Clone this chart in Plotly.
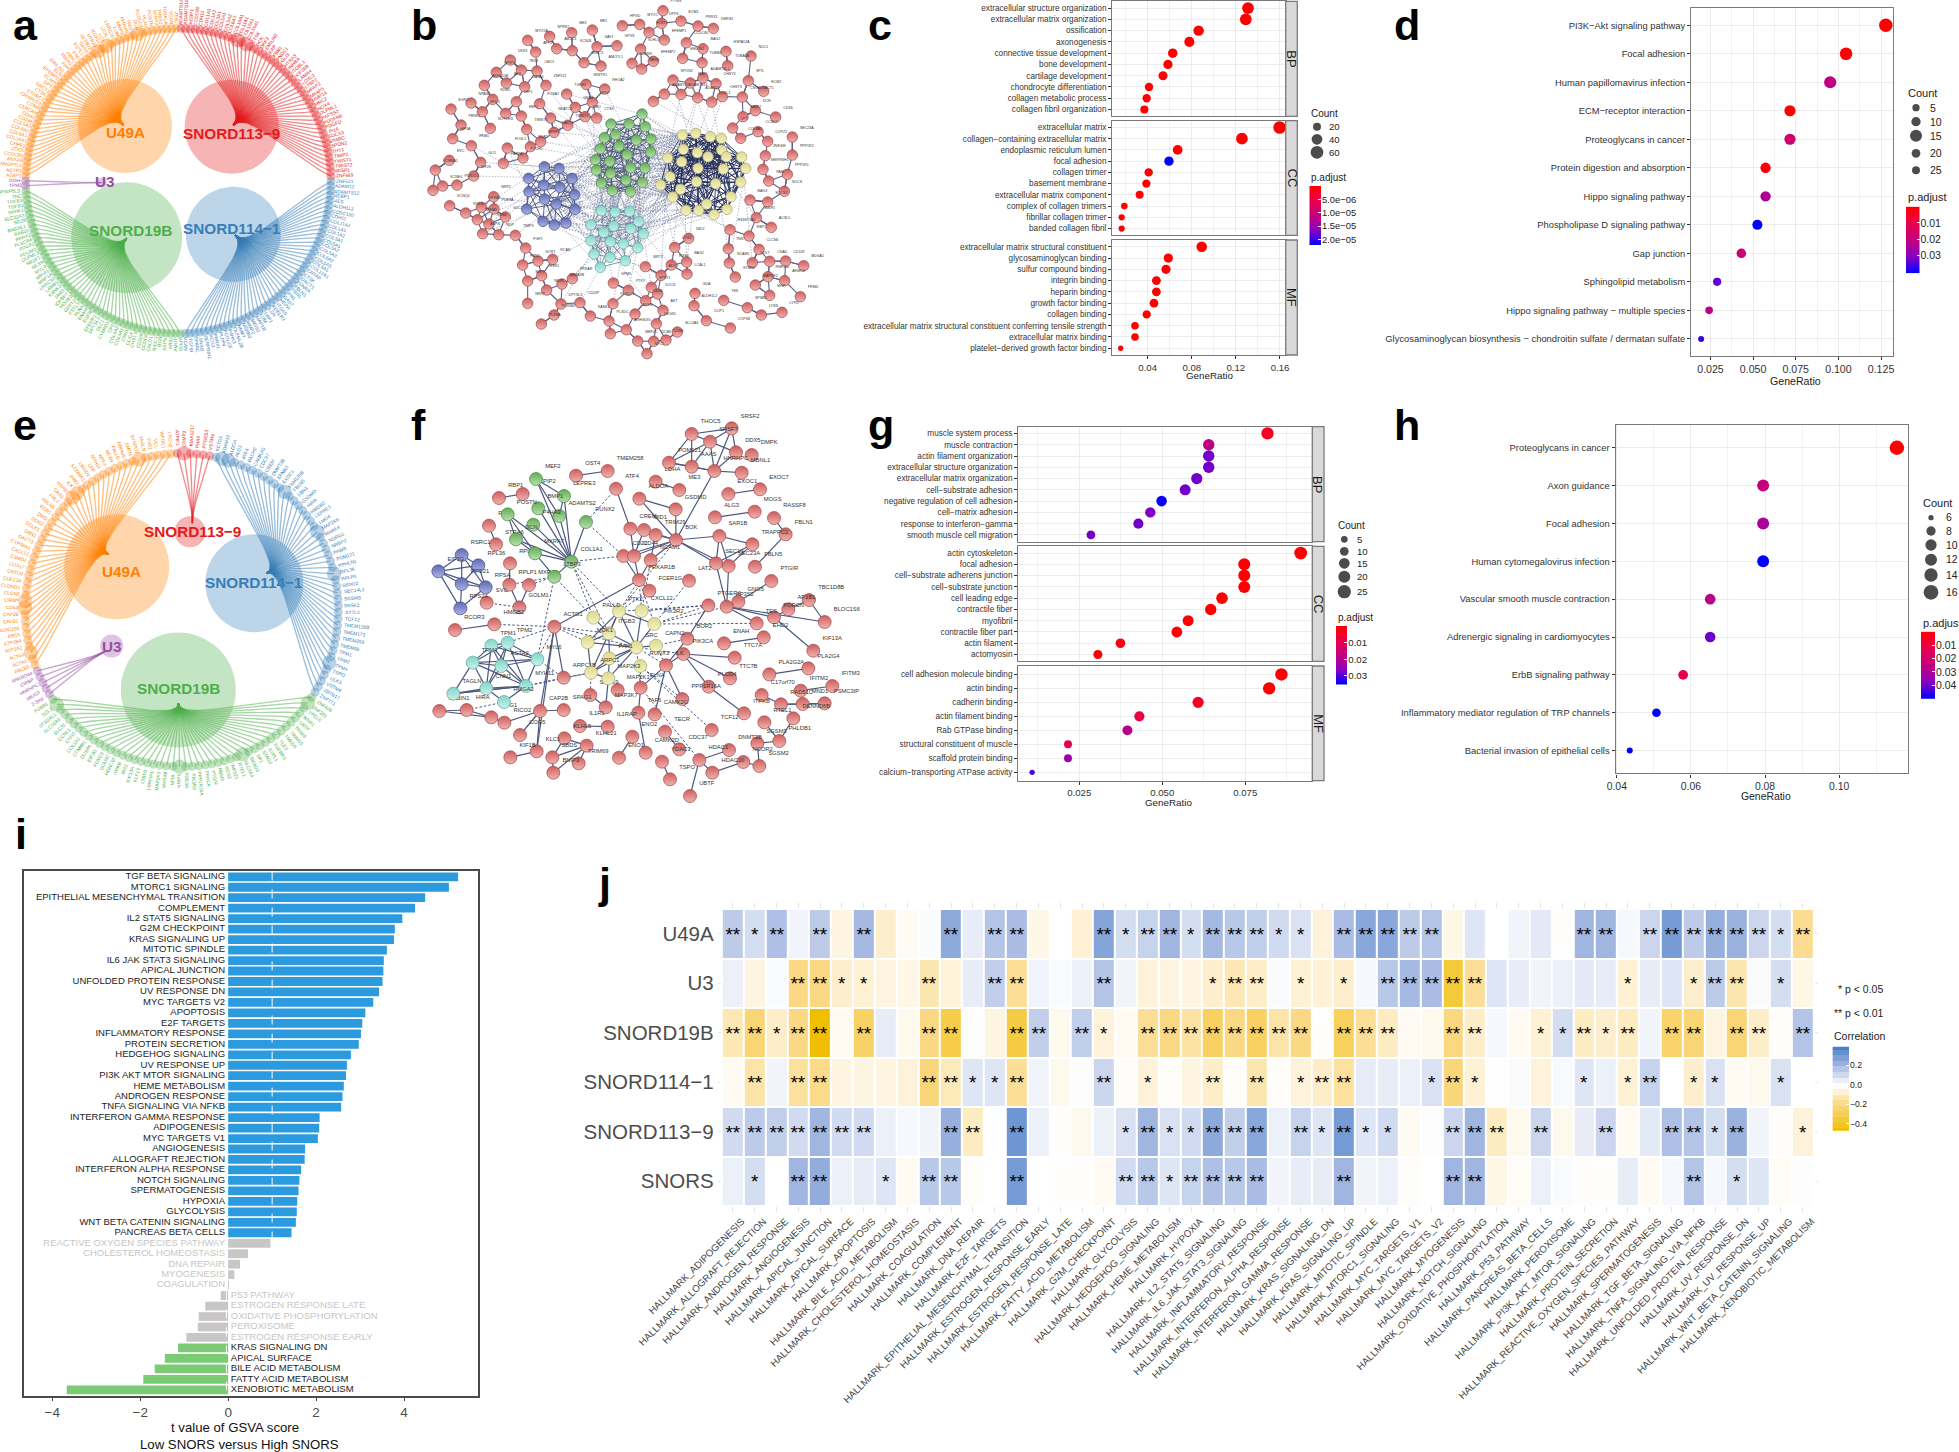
import numpy as np
import plotly.graph_objects as go

W, H = 1959, 1452
FONT = "Liberation Sans"

# ---------- panel c ----------
c_bp_terms = ["extracellular structure organization","extracellular matrix organization","ossification","axonogenesis","connective tissue development","bone development","cartilage development","chondrocyte differentiation","collagen metabolic process","collagen fibril organization"]
c_bp_ratio = [.131,.129,.0862,.0778,.0627,.0584,.0539,.0412,.0391,.037]
c_bp_count = [54,53,36,32,26,24,22,17,16,15]
c_bp_padj = [1e-7]*10
c_cc_terms = ["extracellular matrix","collagen\u2212containing extracellular matrix","endoplasmic reticulum lumen","focal adhesion","collagen trimer","basement membrane","extracellular matrix component","complex of collagen trimers","fibrillar collagen trimer","banded collagen fibril"]
c_cc_ratio = [.1597,.1255,.0672,.0593,.0409,.0388,.0327,.0188,.0164,.0164]
c_cc_count = [66,52,28,24,17,16,14,8,7,7]
c_cc_padj = [1e-7,1e-7,1e-7,2.2e-5,1e-7,1e-7,1e-7,1e-7,1e-7,1e-7]
c_mf_terms = ["extracellular matrix structural constituent","glycosaminoglycan binding","sulfur compound binding","integrin binding","heparin binding","growth factor binding","collagen binding","extracellular matrix structural constituent conferring tensile strength","extracellular matrix binding","platelet\u2212derived growth factor binding"]
c_mf_ratio = [.089,.0587,.0566,.0479,.0479,.0457,.0391,.0285,.0285,.0155]
c_mf_count = [37,24,23,20,20,19,16,12,12,6]
c_mf_padj = [1e-7,1e-7,1e-7,1e-7,1e-7,1e-7,1e-7,1e-7,1e-7,2e-7]

# ---------- panel d ----------
d_terms = ["PI3K\u2212Akt signaling pathway","Focal adhesion","Human papillomavirus infection","ECM\u2212receptor interaction","Proteoglycans in cancer","Protein digestion and absorption","Hippo signaling pathway","Phospholipase D signaling pathway","Gap junction","Sphingolipid metabolism","Hippo signaling pathway \u2212 multiple species","Glycosaminoglycan biosynthesis \u2212 chondroitin sulfate / dermatan sulfate"]
d_ratio = [.1278,.1045,.0952,.0716,.0716,.0573,.0573,.0525,.0431,.0289,.0242,.0195]
d_count = [27,22,20,15,15,12,12,11,9,6,5,4]
d_padj = [.0002,.0003,.021,.0002,.017,.001,.024,.041,.018,.034,.022,.037]

# ---------- panel g ----------
g_bp_terms = ["muscle system process","muscle contraction","actin filament organization","extracellular structure organization","extracellular matrix organization","cell\u2212substrate adhesion","negative regulation of cell adhesion","cell\u2212matrix adhesion","response to interferon\u2212gamma","smooth muscle cell migration"]
g_bp_ratio = [.0817,.064,.064,.064,.0604,.0569,.0498,.0464,.0428,.0285]
g_bp_count = [24,19,19,19,18,17,15,14,13,8]
g_bp_padj = [.004,.018,.028,.028,.028,.028,.035,.027,.028,.028]
g_cc_terms = ["actin cytoskeleton","focal adhesion","cell\u2212substrate adherens junction","cell\u2212substrate junction","cell leading edge","contractile fiber","myofibril","contractile fiber part","actin filament","actomyosin"]
g_cc_ratio = [.0917,.0747,.0747,.0747,.068,.0646,.0578,.0544,.0374,.0306]
g_cc_count = [27,22,22,22,20,19,17,16,11,9]
g_cc_padj = [.0002,.0002,.0002,.0002,.0002,.0002,.0002,.0002,.002,.0005]
g_mf_terms = ["cell adhesion molecule binding","actin binding","cadherin binding","actin filament binding","Rab GTPase binding","structural constituent of muscle","scaffold protein binding","calcium\u2212transporting ATPase activity"]
g_mf_ratio = [.0859,.0822,.0608,.0431,.0395,.0216,.0216,.0108]
g_mf_count = [25,24,18,13,12,6,6,3]
g_mf_padj = [.0002,.0002,.004,.008,.019,.009,.023,.03]

# ---------- panel h ----------
h_terms = ["Proteoglycans in cancer","Axon guidance","Focal adhesion","Human cytomegalovirus infection","Vascular smooth muscle contraction","Adrenergic signaling in cardiomyocytes","ErbB signaling pathway","Inflammatory mediator regulation of TRP channels","Bacterial invasion of epithelial cells"]
h_ratio = [.1156,.0795,.0795,.0795,.0652,.0652,.0579,.0507,.0435]
h_count = [16,11,11,11,9,9,8,7,6]
h_padj = [.0001,.024,.03,.05,.027,.04,.013,.05,.05]

# ---------- panel i ----------
i_terms = ["TGF BETA SIGNALING","MTORC1 SIGNALING","EPITHELIAL MESENCHYMAL TRANSITION","COMPLEMENT","IL2 STAT5 SIGNALING","G2M CHECKPOINT","KRAS SIGNALING UP","MITOTIC SPINDLE","IL6 JAK STAT3 SIGNALING","APICAL JUNCTION","UNFOLDED PROTEIN RESPONSE","UV RESPONSE DN","MYC TARGETS V2","APOPTOSIS","E2F TARGETS","INFLAMMATORY RESPONSE","PROTEIN SECRETION","HEDGEHOG SIGNALING","UV RESPONSE UP","PI3K AKT MTOR SIGNALING","HEME METABOLISM","ANDROGEN RESPONSE","TNFA SIGNALING VIA NFKB","INTERFERON GAMMA RESPONSE","ADIPOGENESIS","MYC TARGETS V1","ANGIOGENESIS","ALLOGRAFT REJECTION","INTERFERON ALPHA RESPONSE","NOTCH SIGNALING","SPERMATOGENESIS","HYPOXIA","GLYCOLYSIS","WNT BETA CATENIN SIGNALING","PANCREAS BETA CELLS","REACTIVE OXYGEN SPECIES PATHWAY","CHOLESTEROL HOMEOSTASIS","DNA REPAIR","MYOGENESIS","COAGULATION","P53 PATHWAY","ESTROGEN RESPONSE LATE","OXIDATIVE PHOSPHORYLATION","PEROXISOME","ESTROGEN RESPONSE EARLY","KRAS SIGNALING DN","APICAL SURFACE","BILE ACID METABOLISM","FATTY ACID METABOLISM","XENOBIOTIC METABOLISM"]
i_values = [5.23,5.02,4.48,4.25,3.96,3.79,3.77,3.61,3.54,3.53,3.51,3.43,3.30,3.12,3.05,3.02,2.97,2.79,2.70,2.68,2.63,2.60,2.57,2.08,2.07,2.04,1.75,1.74,1.66,1.62,1.60,1.57,1.56,1.54,1.44,.96,.45,.27,.14,.015,-.17,-.52,-.67,-.69,-.95,-1.14,-1.44,-1.67,-1.93,-3.67]
i_group = ["up"]*35 + ["ns"]*10 + ["down"]*5

# ---------- panel j ----------
j_rows = ["U49A","U3","SNORD19B","SNORD114\u22121","SNORD113\u22129","SNORS"]
j_cols = ["ADIPOGENESIS","ALLOGRAFT_REJECTION","ANDROGEN_RESPONSE","ANGIOGENESIS","APICAL_JUNCTION","APICAL_SURFACE","APOPTOSIS","BILE_ACID_METABOLISM","CHOLESTEROL_HOMEOSTASIS","COAGULATION","COMPLEMENT","DNA_REPAIR","E2F_TARGETS","EPITHELIAL_MESENCHYMAL_TRANSITION","ESTROGEN_RESPONSE_EARLY","ESTROGEN_RESPONSE_LATE","FATTY_ACID_METABOLISM","G2M_CHECKPOINT","GLYCOLYSIS","HEDGEHOG_SIGNALING","HEME_METABOLISM","HYPOXIA","IL2_STAT5_SIGNALING","IL6_JAK_STAT3_SIGNALING","INFLAMMATORY_RESPONSE","INTERFERON_ALPHA_RESPONSE","INTERFERON_GAMMA_RESPONSE","KRAS_SIGNALING_DN","KRAS_SIGNALING_UP","MITOTIC_SPINDLE","MTORC1_SIGNALING","MYC_TARGETS_V1","MYC_TARGETS_V2","MYOGENESIS","NOTCH_SIGNALING","OXIDATIVE_PHOSPHORYLATION","P53_PATHWAY","PANCREAS_BETA_CELLS","PEROXISOME","PI3K_AKT_MTOR_SIGNALING","PROTEIN_SECRETION","REACTIVE_OXYGEN_SPECIES_PATHWAY","SPERMATOGENESIS","TGF_BETA_SIGNALING","TNFA_SIGNALING_VIA_NFKB","UNFOLDED_PROTEIN_RESPONSE","UV_RESPONSE_DN","UV_RESPONSE_UP","WNT_BETA_CATENIN_SIGNALING","XENOBIOTIC_METABOLISM"]
j_u49a = [.14,.09,.17,.03,.14,-.05,.19,-.08,-.02,.01,.24,.05,.16,.18,-.04,0,-.07,.26,.09,.12,.2,.09,.19,.15,.13,.10,.08,-.06,.18,.25,.25,.14,.16,-.04,.07,0,.03,.06,-.005,.2,.2,.02,.11,.29,.14,.22,.21,.11,.09,-.18]
j_u3 = [.04,-.05,.01,-.2,-.2,-.08,-.07,-.05,-.04,-.13,-.06,.05,.13,-.17,.03,.01,.04,.16,.03,-.06,-.05,-.05,-.08,-.12,-.09,.01,-.07,-.07,-.08,.02,.15,.19,.18,-.35,-.17,.07,.05,.03,.04,.06,.05,-.07,.05,.07,-.08,.14,-.13,.01,.09,-.04]
j_s19b = [-.12,-.23,-.09,-.2,-.47,-.02,-.26,.05,-.03,-.2,-.32,.005,-.05,-.33,.13,-.03,.13,-.06,-.02,-.17,-.2,-.15,-.27,-.2,-.27,-.14,-.2,-.003,-.28,-.17,-.1,-.02,-.03,-.21,-.09,.02,-.02,-.07,.09,-.1,-.08,-.1,.03,-.25,-.23,-.05,-.23,-.09,-.005,.16]
j_s114 = [-.02,-.14,.03,-.16,-.19,-.05,-.05,-.05,-.06,-.22,-.11,.07,.07,-.17,.03,-.03,.005,.11,-.01,-.06,-.01,-.05,-.09,-.01,-.13,-.01,-.06,-.09,-.16,.05,.05,.04,.08,-.22,-.07,.003,.01,-.06,.015,.07,.04,-.07,.12,0,-.08,.08,-.02,-.03,.08,0]
j_s113 = [.1,.14,.13,.1,.2,.1,.1,.04,.02,.03,.22,-.1,0,.31,.04,-.003,-.03,.04,.08,.2,.08,.1,.24,.13,.25,.04,.12,.07,.29,.07,.1,-.02,.005,.11,.2,-.1,-.03,.11,-.03,.05,.11,-.02,.06,.17,.16,.09,.21,.03,-.01,-.06]
j_snors = [.04,.09,0,.2,.23,.04,.05,.07,-.02,.15,.15,-.01,0,.29,0,-.005,-.005,-.02,.1,.15,.07,.12,.17,.15,.18,.03,.05,.05,.2,.03,.04,-.01,0,.2,.2,-.04,-.015,.04,.01,-.01,-.005,.05,-.02,.02,.16,.02,.09,.07,-.015,.005]
j_sig = ["21202020002022000212"+"2122211022"+"2220000002"+"2022222212",
         "00022110020022000200"+"0012201010"+"2222200000"+"0100122010",
         "22122020022002202102"+"2222222022"+"2002200112"+"1202202202",
         "02022000022112000201"+"0020201220"+"0012100001"+"0120110010",
         "22222220002202000012"+"1122202121"+"1002220200"+"2002212001",
         "01022001022002000022"+"1222200020"+"0002200000"+"0000201000"]

# ---------- panels a and e: gene names on the ring (clockwise) ----------
a_u49a = "AEBP1 AGTR1 ANGPTL1 ANXA6 CCDC80 CDO1 CHPF2 COL14A1 COL6A1 COL8A2 COL5A3 CD248 CDH2 CERCAM COMP CRISPLD2 CTHRC1 CTSK DACT1 DPT ECM2 EFEMP2 ELN EMILIN1 FAP FBLN2 FBN1 FN1 FSTL1 GAS1 GLT8D2 HTRA1 ITGA11 LOX LOXL1 LRRC15 LUM MMP2 MXRA5 NID2 OGN PCOLCE PLAU POSTN SFRP2 THBS2 TUBA1A VCAN ZEB1".split()
a_s113 = "ADAMTS14 ADAMTS16 AEBP1 CCDC80 CDH11 COL1A1 COL1A2 COL3A1 COL5A1 COL5A2 COL6A3 COL10A1 COL11A1 COL12A1 COL16A1 CTSK DCN DKK3 EMILIN2 FAP FBN1 FNDC1 GLI3 HTRA3 INHBA ITGBL1 KIF26B LAMA4 LOXL2 LTBP2 MFAP2 MFAP5 MMP14 MRC2 NOX4 OLFML1 PAPSS2 PDGFRB PDGFD PI16 SOCS3 SPARC SPON2 THY1 TIMP2 TWIST1 TWIST2 WISP1 ZNF469".split()
a_s114 = "ZNF521 ADAM12 ADAMTS12 AEBP1 AES ALDH1L2 CCDC130 CDH11 COL11A1 COL1A1 COL1A2 COL3A1 COL5A1 COL5A2 COL5A3 COL6A2 COL6A3 COL8A1 COL12A1 CRTAP CTSK DACT1 EDNRA FBLN1 FBN1 FN1 GAS7 HEPH ITGA5 KDELR3 LOX LRP1 LUM MAP1B MEIS2 MMP2 MSRB3 NNMT OLFML2B P4HA3 PCOLCE PLPP4 PRRX1 RCN3 SERPINH1 SNAI2 SPARC TGFBI VCAN".split()
a_s19b = "APOD AMOT ARSI ASPN BGN BICC1 CALD1 CCDC8 CD109 CHSY3 CLIC4 CNN1 COL4A1 COL4A2 CPZ CYBRD1 DLC1 DPYSL3 EFEMP1 EGFR ENAH FLNA FSTL3 GFPT2 HOXB2 IGFBP7 JAM3 KANK2 LAMB1 LRRC32 MAP1A MRVI1 MYL9 NEXN NR2F1 OLFML3 PDLIM3 PDGFC PLSCR4 PRRX2 RAB31 RAB3IL1 SG2B SLC22A3 SPHK1 TGFB1 TGFB3 TNC TNFAIP8L3".split()
a_u3 = ["TPM2","DISH"]
e_u49a = "ABCB5 ACTA2 ACTG1 ATP2A2 ATP2B4 BBS5 BLOC1S6 CALD1 CAP2B CD63 CIRBP CLCN6 CLDND1 CLEC3A CNTLN COX17 CSMD2 CXCL12 CYP46A1 DACT3 DBN1 DCLK1 DDR2 DMD EGR1 FBLN5 FHL1 GAS1 HSPB7 ILK JAM2 KCNMA1 LMOD1 LPP MYH11 MYL6 NEXN PALLD RBPMS SMTN SYNPO2 TAGLN TNS1 VCL WFDC1 LRCH2".split()
e_s113 = ["ATPIF1","CRMP2","KIAA1217","PHAX","PTGES3","VSTM4"]
e_s114 = "KCTD1 ADAM32 ALDOA ALG3 ATF4 BACH2 CAMK2G CDC37 CREM DNMT3B EFNB3 EXOC1 FAM126B FBLN5 FBN1 GSDMD HIRA HMGB2 LEPRE1 LMO4 MAP2K6 MARK4 NDRG1 NRBP2 PAWR POM121 PPHLN1 RPL36 RPLP0 SBNO2 SEC14L1 SGSM3 SRSF2 SYTL2 TCF12 TMEM126B TMEM173 TMEM258 TMEM88 TPM1 TPM2 TPM4 TSPO ULK3 VSTM4 ZBTB17 ZNF771".split()
e_s19b = "ZNF639 ZNF281 YPEL5 WNK1 UBTF TRIM8 TRIM33 TMED5 TLE3 TGFBR3 SYPL1 STAG2 SP1 SMAD3 SLC4A4 RTEL1 RPS21 RGS2 RBM3 PTGIR PRKCA PPP1R16A PIK3R2 PDE3A NRIP1 NFIA MXRA8 MAP2K2 LRRFIP1 LTBP3 KLF13 KIF13A IRS2 ITPKB HDAC10 GOLM1 FOXO3 EIF3G DUSP6 CTNNB1 COL1A1 CNN2 CCNL1 SLC35 SLC16A3 ST3GAL1 SCL2 TUBB6".split()
e_u3 = ["2-Sep","MEIS3","HNRNPC","CIRBP","ANKRD44"]

# ---------- panel b: nodes (x, y, label) ----------
b_red = [(729,32,"PTGIS"),(607,77,"HPGD"),(659,73,"MYOC"),(725,70,"DPP4"),(783,63,"ECM1"),(834,78,"PRRX1"),(880,85,"DHRS3"),(687,97,"FLRT2"),(517,90,"ME1"),(455,98,"ME3"),(389,109,"SPRR2"),(323,121,"MYO5A"),(410,146,"ABCC3"),(347,156,"AFF3"),(457,152,"KCNJ8"),(531,140,"SAV1"),(591,137,"GPX8"),(662,147,"KLHL5"),(733,120,"EFEMP1"),(799,128,"CCDC80"),(849,146,"BAG2"),(918,154,"HSPA12A"),(993,168,"NDC1"),(271,180,"DKK3"),(492,188,"WWC3"),(636,190,"KCNN3"),(665,207,"NEXN"),(700,184,"EFEMP2"),(788,175,"EMILIN1"),(846,188,"TUBB6"),(923,197,"TUBA1A"),(543,198,"AMOTL1"),(229,217,"SFRP4"),(304,210,"TBX3"),(351,213,"LMO1"),(193,256,"ARHGDIB"),(259,249,"AES"),(314,260,"GATA6"),(378,256,"ZNF521"),(498,253,"WWTR1"),(554,267,"RHOA2"),(759,240,"SPON2"),(811,249,"BMP1"),(849,234,"ADAMTSL1"),(888,251,"CHSY3"),(985,242,"SPI1"),(440,282,"TGFB3"),(733,282,"ADAMTS2"),(783,283,"ADAMTS14"),(833,293,"ADAM19"),(875,306,"LOXL1"),(907,290,"CHST3"),(967,291,"CSGALNACT1"),(1031,274,"ECM2"),(153,309,"NPAS2"),(218,298,"KDM5"),(289,305,"LEF1"),(359,311,"FOXA2"),(517,307,"NPNT"),(700,304,""),(93,327,"EGR2"),(187,335,"NFIL3"),(466,322,"GNAS"),(1006,332,"DCN"),(257,340,""),(304,348,"EBF1"),(392,354,"NKATC1"),(495,350,"SMO"),(530,354,"CTSK"),(969,350,"MMP2"),(1067,351,"CDK6"),(123,375,"PENK1"),(211,385,"NOTCH3"),(443,376,"TWIST2"),(320,388,"TWIST1"),(402,397,"DACT1"),(938,384,"DPT"),(1014,395,"CCNL2"),(98,416,"HIF3A"),(154,437,"IFNB1"),(362,425,"SFRP2"),(262,444,"FOXL1"),(331,440,"SNAI2"),(962,415,"COL8A2"),(1117,411,"SEC23A"),(1043,424,"COPZ2"),(309,474,"PTCH1"),(1036,467,"ZNF469"),(1117,465,"PPP1R2"),(88,481,"EVC"),(182,487,"GLI1"),(250,490,"PAPPA"),(46,510,"KCNMA1"),(161,528,"KIF26"),(1102,523,"PPP1R1"),(1029,508,"SERPINH1"),(1046,543,"PAM"),(1093,574,"SOCS"),(111,555,"PLXDC1"),(68,558,"KCNE4"),(39,571,""),(221,590,"NRP2"),(990,600,"BAG3"),(1043,606,"SOCS3"),(89,617,"KCNQ4"),(184,622,"HTRA1"),(222,627,"PDE3A"),(137,639,"KITLG"),(172,659,"SEMA5"),(256,651,"GUCY1A3"),(1009,653,"SULF2"),(207,672,"RGS4"),(188,701,"ASPN"),(236,704,"NDP"),(286,706,"TIMP3"),(930,689,"HS3ST3A1"),(987,708,"RBP1"),(1054,682,"ACSL5"),(806,715,"NID2"),(764,742,"LOX2"),(317,744,"FGF2"),(925,746,"TNN"),(1017,748,"CLCN6"),(398,778,"RCAN"),(354,783,"SOST"),(308,795,"FBN2"),(800,786,"BAG2"),(754,795,"RGS2"),(928,789,"NCAM1"),(997,788,"GOLT"),(1049,784,"CSAD"),(1097,783,"CD109"),(1151,797,"MDGA1"),(676,800,"SIRT2"),(723,826,"ADCY"),(801,822,"LCAL1"),(365,827,"MSR1"),(323,843,"SEPT"),(457,836,"PRKAR"),(1044,830,"RNF150"),(946,831,"STMN2"),(1094,842,"ARMC4"),(426,852,"SEMA3B"),(580,849,"GPM6"),(694,862,"SPRY1"),(1006,855,"MAPRE2"),(380,870,"NRP1"),(825,880,"GDA"),(625,871,"PTK7"),(1049,886,"MGP"),(1141,890,"FRMD"),(713,882,"DOCK"),(480,908,"CD24P"),(323,910,"NRP2"),(423,912,"DPYSL3"),(579,911,"PLXDC1"),(677,902,"CD36"),(911,901,"TES"),(822,917,"ALDH1L2"),(729,931,"AKT"),(982,923,"SPSB3"),(1086,937,"LYPD"),(1024,945,"LYSN"),(645,942,"MYH9"),(402,945,"PLXNB2"),(511,948,"KANK1"),(364,972,"PLXNA"),(567,963,"PLXDC"),(859,962,"CLIP1"),(931,984,"COPS8"),(709,971,"DEGS1"),(619,989,"ARHGDIG"),(772,996,"SLC4A3"),(571,1001,""),(653,1023,"MEF2C"),(701,1024,"DCBK"),(738,1020,"CCNK"),(681,1061,"NPC1")]
b_green = [(666,342),(573,372),(627,372),(676,380),(553,413),(587,404),(649,420),(693,417),(541,446),(597,438),(692,456),(621,464),(526,479),(569,484),(529,510),(572,520),(632,503),(675,504),(618,540),(667,547),(544,549),(577,572),(632,574)]
b_yellow = [(787,405),(827,400),(871,410),(904,415),(790,448),(743,474),(832,458),(864,470),(905,450),(919,470),(965,471),(977,505),(785,485),(834,505),(910,507),(750,530),(782,568),(830,545),(887,551),(962,546),(722,555),(758,591),(933,590),(798,631),(836,631),(860,612),(921,628),(882,644)]
b_blue = [(373,500),(417,505),(326,535),(456,535),(371,555),(420,562),(327,575),(464,584),(374,597),(409,612),(320,627),(465,628),(369,664),(403,675),(438,669)]
b_cyan = [(544,632),(585,636),(629,634),(513,674),(581,678),(632,686),(656,664),(551,697),(670,701),(513,722),(571,725),(610,731),(653,743),(522,762),(570,772),(616,782),(541,802)]

# ---------- panel f: nodes ----------
f_red = {"THOC5":(815,72),"SRSF2":(935,55),"SRSF7":(870,95),"DDX5":(948,127),"DMPK":(995,135),"POM121":(747,158),"AAAS":(815,170),"HNRNPC":(883,183),"MBNL1":(965,188),"OST4":(468,197),"TMEM258":(563,183),"LDHA":(707,215),"ME3":(778,240),"ATF4":(588,236),"ALDOA":(658,266),"GSDMD":(767,298),"EXOC1":(925,252),"EXOC7":(1020,238),"ALG3":(885,322),"MOGS":(1004,305),"RASSF8":(1062,324),"FBLN1":(1097,373),"PSTPIP2":(308,252),"RBP1":(237,264),"RBP4":(207,347),"STRA6":(228,403),"CREM":(631,356),"MID1":(672,360),"TRIM29":(707,375),"BOK":(768,390),"SAR1B":(898,378),"TRAPPC2":(997,403),"CD22":(610,438),"CD44":(642,438),"NCAM1":(692,450),"SEC13":(888,460),"SEC23A":(926,468),"FBLN5":(1005,470),"PTGIR":(1054,513),"RPLP2":(270,460),"MXRA8":(327,525),"RPLP1":(268,524),"PRKAR1B":(657,510),"FCER1G":(688,542),"LAT2":(807,512),"TBC1D8B":(1167,570),"AP1B1":(1105,598),"GNG5":(955,575),"PTGER4":(865,586),"AP3S2":(920,590),"BLOC1S6":(1214,636),"PORCN":(1062,622),"TES":(1010,640),"SVIL":(200,578),"GOLM1":(298,592),"ACTG1":(403,650),"RCOR3":(105,660),"HMGB2":(223,643),"BOR2":(802,686),"ENAH":(912,700),"EHD2":(1031,682),"TTC7A":(944,743),"KIF13A":(1180,722),"PIK3CA":(790,732),"ILK":(738,766),"PLA2G2A":(1048,793),"PLA2G4":(1165,775),"TTC7B":(930,805),"PLCD4":(866,830),"MAP2K1":(593,840),"FLNA":(662,833),"ARPC1B":(431,803),"SPAG9":(511,855),"MAP3K7":(557,892),"PPP1R16A":(787,867),"CAMK2G":(704,913),"ITPKB":(972,910),"IFITM2":(1142,842),"IFITM3":(1237,828),"C17orf70":(1025,855),"RAD51C":(1083,883),"MND1":(1148,882),"PSMC3IP":(1214,880),"DENND6B":(1120,925),"RTEL1":(1033,937),"PHLDB1":(1078,993),"SGSM3":(1012,1000),"DNMT3B":(927,1020),"NCOR2":(970,1056),"SGSM2":(1018,1068),"TCF12":(875,960),"TECR":(735,965),"CDC37":(778,1018),"TAF6":(655,908),"ENO2":(637,980),"CAMK2D":(677,1028),"ENO1":(597,1043),"YDAC3":(726,1055),"TSPO":(750,1108),"HDAC1":(838,1050),"HDAC10":(877,1088),"UBTF":(810,1158),"CAP2B":(360,903),"SPAG1":(431,900),"IL1R1":(480,948),"IL1RAP":(563,950),"KLHL5":(433,985),"KLHL21":(500,1007),"SBDS":(397,1042),"TRIM69":(476,1060),"BNIP3":(400,1088),"KLC1":(350,1024),"KIF1B":(271,1042),"COG5":(300,975),"RICO2":(253,938),"HIRA":(140,900),"CABIN1":(58,903),"HMG1":(214,922)}
f_green = {"MEF2":(348,207),"LEPRE3":(432,258),"BMP1":(355,295),"POSTN":(263,313),"ADAMTS2":(418,318),"P4HA3":(340,344),"RUNX2":(498,336),"DCN":(288,388),"MXRA7":(345,430),"COL1A1":(454,455),"LTBP3":(403,500)}
f_blue = {"RSRC1":(125,435),"RPL36":(175,466),"EIF3G":(55,484),"RPS21":(125,522),"RPSA":(197,532),"RPS24":(121,595)}
f_cyan = {"TPM1":(214,707),"TPM2":(263,698),"TPM4":(158,758),"ACTA2":(244,768),"MYL6":(352,748),"MYH11":(318,828),"CNN1":(199,835),"TAGLN":(100,851),"HMGA2":(252,876)}
f_yellow = {"PALLD":(520,623),"PTK2":(597,604),"CXCL12":(665,603),"PIK3R2":(703,642),"ITGB3":(567,670),"MDK1":(503,697),"SRC":(649,712),"CAPN2":(708,707),"PAK1":(568,745),"RUNX3":(661,768),"ARPC1":(513,788),"MAP2K3":(565,805)}
f_solid = "THOC5-SRSF2 THOC5-SRSF7 THOC5-POM121 THOC5-AAAS SRSF2-SRSF7 SRSF2-DDX5 SRSF2-HNRNPC SRSF7-DDX5 SRSF7-AAAS SRSF7-HNRNPC SRSF7-POM121 DDX5-HNRNPC POM121-AAAS AAAS-HNRNPC POM121-HNRNPC HNRNPC-MBNL1 HNRNPC-BOK OST4-TMEM258 LDHA-ME3 ALDOA-GSDMD ALDOA-BOK GSDMD-BOK ATF4-CREM EXOC1-EXOC7 ALG3-MOGS RASSF8-FBLN1 FBLN1-FBLN5 BOK-SAR1B BOK-SEC13 BOK-SEC23A BOK-TRIM29 BOK-MID1 BOK-CD44 BOK-NCAM1 BOK-CD22 SAR1B-TRAPPC2 SAR1B-SEC13 SAR1B-SEC23A TRAPPC2-SEC23A TRAPPC2-SEC13 SEC13-SEC23A SEC23A-AP3S2 SEC13-AP3S2 CREM-CD44 MID1-CD44 TRIM29-NCAM1 CD22-CD44 CD44-PRKAR1B CD22-PRKAR1B NCAM1-PRKAR1B PRKAR1B-FCER1G PRKAR1B-ACTG1 PTGIR-GNG5 GNG5-AP3S2 AP3S2-PORCN AP3S2-BLOC1S6 AP3S2-TES AP1B1-TBC1D8B TBC1D8B-BLOC1S6 PORCN-KIF13A AP1B1-PORCN PTGER4-BOR2 ENAH-EHD2 PIK3CA-ILK PIK3CA-PLCD4 PIK3CA-TTC7A PIK3CA-TTC7B BOR2-ILK PLCD4-ITPKB ILK-PPP1R16A ILK-CAMK2G PLA2G2A-PLA2G4 IFITM2-IFITM3 RAD51C-MND1 RAD51C-PSMC3IP MND1-PSMC3IP C17orf70-RAD51C RTEL1-PHLDB1 PHLDB1-DENND6B SGSM3-PHLDB1 DNMT3B-HDAC1 HDAC1-HDAC10 HDAC10-NCOR2 NCOR2-SGSM2 HDAC1-UBTF SGSM3-SGSM2 TECR-CDC37 TAF6-FLNA TAF6-CAMK2D ENO2-ENO1 YDAC3-TSPO IL1R1-IL1RAP KLHL5-KLHL21 KLHL21-SBDS KLHL21-TRIM69 KLHL21-BNIP3 SBDS-BNIP3 KLHL5-SBDS KLC1-KIF1B KLC1-CAP2B CAP2B-COG5 CAP2B-SPAG1 CAP2B-RICO2 ACTG1-CAP2B ACTG1-ARPC1B ACTG1-KLC1 SPAG9-MAP3K7 MAP3K7-MAP2K3 FLNA-ILK HIRA-CABIN1 HIRA-HMG1 CABIN1-HMG1 RICO2-HMG1 PSTPIP2-RBP1 RBP4-STRA6 RPLP2-RPLP1 RPLP1-GOLM1 MXRA8-GOLM1 RCOR3-HMGB2 COL1A1-MEF2 COL1A1-LEPRE3 COL1A1-BMP1 COL1A1-POSTN COL1A1-ADAMTS2 COL1A1-P4HA3 COL1A1-RUNX2 COL1A1-DCN COL1A1-MXRA7 COL1A1-LTBP3 MEF2-LEPRE3 MEF2-ADAMTS2 LEPRE3-ADAMTS2 POSTN-MXRA7 POSTN-DCN MXRA7-LTBP3 DCN-MXRA7 RSRC1-RPL36 RSRC1-EIF3G RSRC1-RPS21 RSRC1-RPSA RPL36-RPS21 RPL36-EIF3G RPL36-RPSA EIF3G-RPS21 EIF3G-RPSA EIF3G-RPS24 RPS21-RPSA RPS21-RPS24 RPSA-RPS24 TPM1-TPM2 TPM1-TPM4 TPM1-ACTA2 TPM1-MYL6 TPM1-MYH11 TPM1-CNN1 TPM2-TPM4 TPM2-ACTA2 TPM2-MYL6 TPM2-MYH11 TPM2-CNN1 TPM4-ACTA2 TPM4-MYL6 TPM4-MYH11 TPM4-CNN1 TPM4-TAGLN ACTA2-MYL6 ACTA2-MYH11 ACTA2-CNN1 MYL6-MYH11 MYH11-CNN1 MYH11-TAGLN CNN1-TAGLN TAGLN-MYH11 MYH11-HMGA2 CNN1-HMGA2 PTK2-SRC PTK2-ITGB3 PTK2-MDK1 PTK2-PIK3R2 PTK2-ARPC1 ITGB3-SRC ITGB3-MDK1 ITGB3-PAK1 MDK1-SRC MDK1-ARPC1 SRC-PAK1 SRC-CAPN2 SRC-CXCL12 SRC-MAP2K3 SRC-ARPC1 PAK1-ARPC1 PAK1-MAP2K3 ARPC1-MAP2K3 PIK3R2-SRC PALLD-ITGB3".split()
f_dashed = "ATF4-RUNX2 RUNX2-CD22 COL1A1-CD22 COL1A1-PALLD COL1A1-PTK2 COL1A1-ITGB3 LTBP3-PALLD LTBP3-MYL6 LTBP3-MXRA8 ACTG1-SRC ACTG1-ITGB3 ACTG1-MDK1 ACTG1-TPM2 ACTG1-MYL6 ARPC1B-ARPC1 MYL6-ARPC1B MYH11-ARPC1B MYH11-ARPC1 PRKAR1B-PTK2 PRKAR1B-CXCL12 PRKAR1B-PIK3R2 FCER1G-PTK2 LAT2-PIK3R2 PTK2-PTGER4 CXCL12-PTGER4 PIK3R2-PTGER4 PIK3R2-TES PIK3R2-AP3S2 SRC-PIK3CA SRC-ILK CAPN2-BOR2 FLNA-RUNX3 RUNX3-PPP1R16A RUNX3-TCF12 ARPC1-SPAG9 SRC-FLNA FLNA-HDAC1 PTK2-BOK NCAM1-CXCL12 CAPN2-ILK HMGB2-ACTG1 GOLM1-SVIL LTBP3-RPLP1 HMGA2-HIRA".split()

# ---------- helpers ----------
traces, annotations, shapes = [], [], []
layout_axes = {}
axis_n = [0]

def new_axes(box, xr, yr, xopts=None, yopts=None):
    l, t, r, b = box
    axis_n[0] += 1
    n = axis_n[0]
    sfx = "" if n == 1 else str(n)
    xd = dict(domain=[l / W, r / W], range=xr, anchor="y" + sfx, zeroline=False, showgrid=False, automargin=False)
    yd = dict(domain=[1 - b / H, 1 - t / H], range=yr, anchor="x" + sfx, zeroline=False, showgrid=False, automargin=False)
    xd.update(xopts or {})
    yd.update(yopts or {})
    layout_axes["xaxis" + sfx] = xd
    layout_axes["yaxis" + sfx] = yd
    return "x" + sfx, "y" + sfx

def text(px, py, s, size=10, color="#222", anchor="left", bold=False, angle=0, va="middle"):
    annotations.append(dict(x=px / W, y=1 - py / H, xref="paper", yref="paper", text=("<b>%s</b>" % s) if bold else s,
                            showarrow=False, xanchor=anchor, yanchor=va, textangle=angle,
                            font=dict(size=size, color=color, family=FONT)))

PADJ_SCALE = [[0, "#ff0000"], [.25, "#e8004c"], [.5, "#c2007f"], [.75, "#8a00c0"], [1, "#0000ff"]]
FRAME = "#7a7a7a"

def dot_panel(box, xr, dtick, terms, ratio, count, padj, cmax, clim, dlim, lab_size, tick_size, show_x=True, fmt=".2f", minor_dtick=None):
    n = len(terms)
    xo = dict(showline=True, mirror=True, linecolor=FRAME, linewidth=1.4, showgrid=True, gridcolor="#ececec", gridwidth=1.3,
              dtick=dtick, tick0=0, minor=dict(dtick=minor_dtick or dtick / 2, showgrid=True, gridcolor="#f2f2f2", gridwidth=.7),
              tickformat=fmt, tickfont=dict(size=tick_size, color="#333", family=FONT),
              ticks="outside" if show_x else "", ticklen=3, tickcolor="#333", showticklabels=show_x)
    yo = dict(showline=True, mirror=True, linecolor=FRAME, linewidth=1.4, showgrid=True, gridcolor="#ececec", gridwidth=1.3,
              tickmode="array", tickvals=list(range(n)), ticktext=terms, ticks="outside", ticklen=3, tickcolor="#333",
              tickfont=dict(size=lab_size, color="#333", family=FONT))
    xa, ya = new_axes(box, xr, [n - .4, -.6], xo, yo)
    cnt = np.array(count, float)
    diam = dlim[0] + (dlim[1] - dlim[0]) * np.sqrt((cnt - clim[0]) / (clim[1] - clim[0]))
    traces.append(go.Scatter(x=ratio, y=list(range(n)), mode="markers", xaxis=xa, yaxis=ya, hoverinfo="skip", cliponaxis=False,
                             marker=dict(size=diam, color=padj, cmin=0, cmax=cmax, colorscale=PADJ_SCALE, showscale=False, opacity=1, line=dict(width=0))))

def strip(box, label, right):
    l, t, r, b = box
    shapes.append(dict(type="rect", xref="paper", yref="paper", x0=r / W, x1=right / W, y0=1 - b / H, y1=1 - t / H,
                       fillcolor="#d9d9d9", line=dict(color=FRAME, width=1.3)))
    text((r + right) / 2, (t + b) / 2, label, size=13, color="#1a1a1a", anchor="center", angle=90)

def legend_bar(box, lo, hi, ticks, labels, scale, size, reverse=True, nb=80):
    rng = [hi, lo] if reverse else [lo, hi]
    xa, ya = new_axes(box, [-.5, .5], rng, dict(visible=False),
                      dict(side="right", tickmode="array", tickvals=ticks, ticktext=labels, ticks="inside", ticklen=3,
                           tickcolor="white", tickfont=dict(size=size, color="#222", family=FONT), showline=False))
    vals = np.linspace(min(lo, hi), max(lo, hi), nb)
    traces.append(go.Heatmap(x=[0], y=vals, z=[[v] for v in vals], colorscale=scale, zmin=min(lo, hi), zmax=max(lo, hi),
                             showscale=False, xaxis=xa, yaxis=ya, hoverinfo="skip"))

def count_legend(px, rows, labels, diams, lab_x, size):
    traces.append(go.Scatter(x=[px] * len(rows), y=rows, mode="markers", xaxis=OV[0], yaxis=OV[1], hoverinfo="skip",
                             marker=dict(size=diams, color="black", line=dict(width=0))))
    for y, s in zip(rows, labels):
        text(lab_x, y, s, size=size)

OV = new_axes((0, 0, W, H), [0, W], [H, 0], dict(visible=False), dict(visible=False))

# ---------- network a / e ----------
def ring_panel(box, cx, cy, R, start, step, sectors, lab_r, lab_size, leaf_size):
    sx = box[2] - box[0]
    sy = box[3] - box[1]
    xa, ya = new_axes(box, [0, sx * 3], [sy * 3, 0], dict(visible=False), dict(visible=False))
    ang = start
    for sec in sectors:
        genes = sec["genes"]
        col = sec["rgb"]
        traces.append(go.Scatter(x=[sec["c"][0]], y=[sec["c"][1]], mode="markers", xaxis=xa, yaxis=ya, hoverinfo="skip",
                                 marker=dict(size=sec["d"], color="rgba(%s,.33)" % col, line=dict(width=0))))
        angs = [ang - step * (i + .5) for i in range(len(genes))]
        ang -= step * len(genes)
        mid = np.radians((angs[0] + angs[-1]) / 2)
        J = np.array(sec["j"], float)
        M = np.array([cx + R * np.cos(mid), cy - R * np.sin(mid)])
        u = (M - J) / np.linalg.norm(M - J)
        k = .28 * np.linalg.norm(M - J)
        lx, ly = [], []
        for a_deg in angs:
            a_r = np.radians(a_deg)
            L = np.array([cx + R * np.cos(a_r), cy - R * np.sin(a_r)])
            P1 = J + u * k
            P2 = J * .42 + L * .58
            t = np.linspace(0, 1, 26)[:, None]
            pts = (1 - t) ** 3 * J + 3 * (1 - t) ** 2 * t * P1 + 3 * (1 - t) * t ** 2 * P2 + t ** 3 * L
            traces.append(go.Scatter(x=pts[:, 0], y=pts[:, 1], mode="lines", xaxis=xa, yaxis=ya, hoverinfo="skip",
                                     line=dict(color="rgba(%s,.5)" % col, width=1.35)))
            lx.append(L[0]); ly.append(L[1])
        sizes = [leaf_size * (1.6 if i in sec.get("big", []) else 1) for i in range(len(genes))]
        traces.append(go.Scatter(x=lx, y=ly, mode="markers", xaxis=xa, yaxis=ya, hoverinfo="skip",
                                 marker=dict(size=sizes, color="rgba(%s,.5)" % col, line=dict(width=0))))
        for g, a_deg in zip(genes, angs):
            a_r = np.radians(a_deg)
            rr = lab_r + len(g) * lab_size * .62 * 3 / 2
            a_norm = (a_deg + 360) % 360
            left = 90 < a_norm < 270
            annotations.append(dict(x=cx + rr * np.cos(a_r), y=cy - rr * np.sin(a_r), xref=xa, yref=ya, text=g, showarrow=False,
                                    xanchor="center", yanchor="middle", textangle=(-a_deg + 180) if left else -a_deg,
                                    font=dict(size=lab_size, color="rgb(%s)" % col, family=FONT)))
        annotations.append(dict(x=sec["t"][0], y=sec["t"][1], xref=xa, yref=ya, text="<b>%s</b>" % sec["name"], showarrow=False,
                                font=dict(size=sec.get("fs", 15.3), color="rgb(%s)" % col, family=FONT)))

ORANGE, RED, BLUE, GREEN, PURPLE = "255,127,0", "228,26,28", "55,126,184", "77,175,74", "152,78,163"
ring_panel((0, 0, 420, 390), 535, 543, 458, 179, 360 / 198,
           [dict(name="U49A", genes=a_u49a, rgb=ORANGE, c=(375, 378), d=94, j=(370, 375), t=(375, 396), big=[31, 33, 40]),
            dict(name="SNORD113\u22129", genes=a_s113, rgb=RED, c=(695, 380), d=94, j=(700, 375), t=(693, 401), big=[12, 14]),
            dict(name="SNORD114\u22121", genes=a_s114, rgb=BLUE, c=(700, 703), d=95, j=(705, 705), t=(697, 684)),
            dict(name="SNORD19B", genes=a_s19b, rgb=GREEN, c=(380, 713), d=111, j=(380, 715), t=(392, 692)),
            dict(name="U3", genes=a_u3, rgb=PURPLE, c=(305, 548), d=10, j=(305, 548), t=(316, 543))],
           472, 4.8, 9)
ring_panel((0, 410, 420, 810), 545, 600, 470, 201.7, 360 / 152,
           [dict(name="U49A", genes=e_u49a, rgb=ORANGE, c=(350, 470), d=105, j=(325, 432), t=(365, 483), big=[2, 9, 10, 28, 29, 40]),
            dict(name="SNORD113\u22129", genes=e_s113, rgb=RED, c=(570, 365), d=31, j=(577, 340), t=(578, 365), big=[1]),
            dict(name="SNORD114\u22121", genes=e_s114, rgb=BLUE, c=(763, 520), d=98, j=(800, 490), t=(763, 516), big=[1, 2, 12, 20, 27, 41]),
            dict(name="SNORD19B", genes=e_s19b, rgb=GREEN, c=(535, 840), d=115, j=(535, 880), t=(535, 836), big=[1, 14, 24, 46]),
            dict(name="U3", genes=e_u3, rgb=PURPLE, c=(335, 708), d=23, j=(320, 722), t=(335, 710))],
           490, 4.8, 9)

# ---------- networks b / f ----------
NODE = {"red": ("#cf5d5e", "#efb3ae", "#a04646"), "green": ("#62ad58", "#b8e0ad", "#46843e"),
        "yellow": ("#dcd98d", "#f4f2c6", "#a8a66c"), "blue": ("#5f6ab4", "#aab2e2", "#444e8c"),
        "cyan": ("#82d6c8", "#c8f0ea", "#58a79c")}

def add_edges(xa, ya, segs, color, width, dash="solid"):
    xs, ys = [], []
    for (a, b) in segs:
        xs += [a[0], b[0], None]
        ys += [a[1], b[1], None]
    traces.append(go.Scatter(x=xs, y=ys, mode="lines", xaxis=xa, yaxis=ya, hoverinfo="skip",
                             line=dict(color=color, width=width, dash=dash)))

def add_nodes(xa, ya, xs, ys, names, kind, size, font_size):
    base, glow, edge = NODE[kind]
    traces.append(go.Scatter(x=xs, y=ys, mode="markers+text", xaxis=xa, yaxis=ya, hoverinfo="skip", text=names,
                             textposition="top right", textfont=dict(size=font_size, color="#333", family=FONT),
                             marker=dict(size=size, color=base, line=dict(color=edge, width=.7),
                                         gradient=dict(type="vertical", color=glow))))

xb, yb = new_axes((420, 0, 860, 390), [0, 1320], [1170, 0], dict(visible=False), dict(visible=False))
red_pts = [(p[0], p[1]) for p in b_red]

def close_pairs(pts, lim):
    return [(pts[i], pts[j]) for i in range(len(pts)) for j in range(i + 1, len(pts))
            if np.hypot(pts[i][0] - pts[j][0], pts[i][1] - pts[j][1]) < lim]

def nearest_pairs(pts, lim):
    out = []
    for i, p in enumerate(pts):
        d = [np.hypot(p[0] - q[0], p[1] - q[1]) if j != i else 1e9 for j, q in enumerate(pts)]
        j = int(np.argmin(d))
        if d[j] < lim:
            out.append((p, pts[j]))
    return out

def stride_pairs(a, b, step):
    return [(a[i % len(a)], b[(i * 3) % len(b)]) for i in range(0, len(a) * len(b), step)]

dotted = []
dotted += stride_pairs(b_green, b_yellow, 7) + stride_pairs(b_green, b_cyan, 6) + stride_pairs(b_green, b_blue, 8)
dotted += stride_pairs(b_blue, b_cyan, 6) + stride_pairs(b_yellow, b_cyan, 9)
dotted += [(p, b_green[i % len(b_green)]) for i, p in enumerate(red_pts) if 330 < p[0] < 700 and 230 < p[1] < 480]
dotted += [(p, b_yellow[i % len(b_yellow)]) for i, p in enumerate(red_pts) if 700 <= p[0] < 960 and 230 < p[1] < 380]
dotted += [(p, b_yellow[-1 - i % len(b_yellow)]) for i, p in enumerate(red_pts) if 700 < p[0] < 1010 and 640 < p[1] < 830]
dotted += [(p, b_blue[i % len(b_blue)]) for i, p in enumerate(red_pts) if 150 < p[0] < 320 and 430 < p[1] < 720]
dotted += [(p, b_cyan[i % len(b_cyan)]) for i, p in enumerate(red_pts) if 380 < p[0] < 800 and 770 < p[1] < 920]
add_edges(xb, yb, dotted, "rgba(100,108,145,.65)", .7, "1.5px,1.5px")
add_edges(xb, yb, nearest_pairs(red_pts, 95) + close_pairs(red_pts, 62), "#5a6488", 1.1)
add_edges(xb, yb, close_pairs(b_green, 105), "#4a5478", .9)
add_edges(xb, yb, close_pairs(b_blue, 100), "#4a5478", .9)
add_edges(xb, yb, close_pairs(b_cyan, 85), "#6a7498", .8)
add_edges(xb, yb, close_pairs(b_yellow, 150), "#232c58", .9)
add_nodes(xb, yb, [p[0] for p in b_red], [p[1] for p in b_red], [p[2] for p in b_red], "red", 10.5, 3.6)
for pts, kind in ((b_green, "green"), (b_yellow, "yellow"), (b_blue, "blue"), (b_cyan, "cyan")):
    add_nodes(xb, yb, [p[0] for p in pts], [p[1] for p in pts], None, kind, 10.5, 3.6)

xf, yf = new_axes((420, 410, 860, 810), [0, 1320], [1200, 0], dict(visible=False), dict(visible=False))
f_all = {}
for d in (f_red, f_green, f_blue, f_cyan, f_yellow):
    f_all.update(d)
def edge_list(items):
    out = []
    for e in items:
        a, b = e.split("-")
        if a in f_all and b in f_all:
            out.append((f_all[a], f_all[b]))
    return out
add_edges(xf, yf, edge_list(f_dashed), "#3a4570", .9, "2.5px,2px")
add_edges(xf, yf, edge_list(f_solid), "#4e587f", 1.2)
for d, kind in ((f_red, "red"), (f_green, "green"), (f_blue, "blue"), (f_cyan, "cyan"), (f_yellow, "yellow")):
    add_nodes(xf, yf, [v[0] for v in d.values()], [v[1] for v in d.values()], list(d.keys()), kind, 13, 5.8)

# ---------- dot plots ----------
cx = [.0079, .1652]
for box, terms, r, cnt, p, lab in (((1112.3, 1.3, 1285.7, 116.3), c_bp_terms, c_bp_ratio, c_bp_count, c_bp_padj, "BP"),
                                   ((1112.3, 120.7, 1285.7, 235.3), c_cc_terms, c_cc_ratio, c_cc_count, c_cc_padj, "CC"),
                                   ((1112.3, 240, 1285.7, 355), c_mf_terms, c_mf_ratio, c_mf_count, c_mf_padj, "MF")):
    dot_panel(box, cx, .04, terms, r, cnt, p, 2.21e-5, (6, 66), (5.3, 12.6), 8.2, 9.6, show_x=lab == "MF")
    strip(box, lab, 1297.3)
text(1209, 375.5, "GeneRatio", size=9.8, color="#222", anchor="center")
text(1309, 114, "Count", size=10)
count_legend(1317, [126.7, 139.3, 152.3], ["20", "40", "60"], [8, 10.7, 12.7], 1326.7, 9.6)
text(1309, 178, "p.adjust", size=10)
legend_bar((1309.3, 186, 1321, 245), 0, 2.21e-5, [5e-6, 1e-5, 1.5e-5, 2e-5], ["5.0e\u221206", "1.0e\u221205", "1.5e\u221205", "2.0e\u221205"], PADJ_SCALE, 9.4)

dot_panel((1691.3, 8.1, 1893.3, 356), [.01375, .1322], .025, d_terms, d_ratio, d_count, d_padj, .041, (4, 27), (6, 13.4), 9.4, 10.6, fmt=".3f")
text(1795, 381, "GeneRatio", size=10.6, anchor="center")
text(1906, 93, "Count", size=11)
count_legend(1916, [107.7, 121.7, 135.7, 153.3, 170.3], ["5", "10", "15", "20", "25"], [7.3, 9.3, 12, 8.7, 8], 1928, 10.5)
text(1906, 197, "p.adjust", size=11)
legend_bar((1906, 206.7, 1919.5, 273.3), 0, .041, [.01, .02, .03], ["0.01", "0.02", "0.03"], PADJ_SCALE, 10.5)

gx = [.00663, .0952]
for box, terms, r, cnt, p, lab in (((1018.3, 426.7, 1312.3, 541.7), g_bp_terms, g_bp_ratio, g_bp_count, g_bp_padj, "BP"),
                                   ((1018.3, 546.3, 1312.3, 661.3), g_cc_terms, g_cc_ratio, g_cc_count, g_cc_padj, "CC"),
                                   ((1018.3, 666, 1312.3, 780.7), g_mf_terms, g_mf_ratio, g_mf_count, g_mf_padj, "MF")):
    dot_panel(box, gx, .025, terms, r, cnt, p, .0354, (3, 27), (5.3, 12.8), 8.2, 9.6, show_x=lab == "MF", fmt=".3f")
    strip(box, lab, 1324)
text(1168, 802.5, "GeneRatio", size=9.8, anchor="center")
text(1335.7, 526, "Count", size=10)
count_legend(1344.3, [539.3, 551.3, 563.3, 576.7, 591.7], ["5", "10", "15", "20", "25"], [6.7, 8.7, 10.7, 12, 13.3], 1354.7, 9.6)
text(1335.7, 617.7, "p.adjust", size=10)
legend_bar((1336, 626, 1347.3, 684.7), 0, .0354, [.01, .02, .03], ["0.01", "0.02", "0.03"], PADJ_SCALE, 9.6)

dot_panel((1615.7, 425, 1908, 773.3), [.0397, .1186], .02, h_terms, h_ratio, h_count, h_padj, .05, (6, 16), (6, 14.4), 9.4, 10.4)
text(1766, 796, "GeneRatio", size=10.4, anchor="center")
text(1921, 502.7, "Count", size=11)
count_legend(1931, [517.7, 531, 545, 559.7, 575, 592.3], ["6", "8", "10", "12", "14", "16"], [5.3, 9.3, 11.3, 12, 13.3, 14.7], 1944, 10.4)
text(1921, 622.7, "p.adjust", size=11)
legend_bar((1921, 631.7, 1935, 698.7), 0, .05, [.01, .02, .03, .04], ["0.01", "0.02", "0.03", "0.04"], PADJ_SCALE, 10.4)

# ---------- panel i ----------
xi, yi = new_axes((24, 870.6, 477.7, 1396), [-4.643, 5.675], [49.59, -.59],
                  dict(showline=True, mirror=True, linecolor="#4a4a4a", linewidth=1.6, dtick=2, tick0=0, ticks="outside", ticklen=3,
                       tickcolor="#444", tickfont=dict(size=13.5, color="#4d4d4d", family=FONT)),
                  dict(showline=True, mirror=True, linecolor="#4a4a4a", linewidth=1.6, showticklabels=False, ticks=""))
GROUP_COL = {"up": "#2b9ade", "ns": "#c9c6c6", "down": "#7bcb74"}
rows_i = list(range(len(i_terms)))
traces.append(go.Bar(x=i_values, y=rows_i, orientation="h", xaxis=xi, yaxis=yi, width=.84, hoverinfo="skip",
                     marker=dict(color=[GROUP_COL[g] for g in i_group], line=dict(width=0))))
traces.append(go.Scatter(x=[1, 1], y=[-.5, 34.5], mode="lines", xaxis=xi, yaxis=yi, hoverinfo="skip",
                         line=dict(color="white", width=1, dash="dash")))
traces.append(go.Scatter(x=[-.04, -.04], y=[39.6, 49.5], mode="lines", xaxis=xi, yaxis=yi, hoverinfo="skip",
                         line=dict(color="white", width=1, dash="dash")))
for idx_sign, pos in ((True, "middle left"), (False, "middle right")):
    sel = [k for k in rows_i if (i_values[k] >= 0) == idx_sign]
    for grp, col in (("ns", "#c6c6c6"), ("up", "#222"), ("down", "#222")):
        s2 = [k for k in sel if i_group[k] == grp]
        if s2:
            traces.append(go.Scatter(x=[-.07 if idx_sign else .06] * len(s2), y=s2, mode="text", xaxis=xi, yaxis=yi, hoverinfo="skip",
                                     text=[i_terms[k] for k in s2], textposition=pos, cliponaxis=False,
                                     textfont=dict(size=9.5, color=col, family=FONT)))
text(235, 1427.4, "t value of GSVA score", size=13.2, color="#111", anchor="center")
text(239, 1444.4, "Low SNORS versus High SNORS", size=13.2, color="#111", anchor="center")

# ---------- panel j ----------
HEAT = [[0, "#efbe00"], [.3140, "#fbd884"], [.5465, "#ffffff"], [.7791, "#a0b5e0"], [1, "#4a80c8"]]
j_z = [j_u49a, j_u3, j_s19b, j_s114, j_s113, j_snors]
j_text = [["*" * int(c) for c in row] for row in j_sig]
xj, yj = new_axes((721.8, 909, 1813.5, 1206), [-.5, 49.5], [5.5, -.5],
                  dict(tickmode="array", tickvals=list(range(50)), ticktext=["HALLMARK_" + c for c in j_cols], tickangle=-45,
                       ticks="outside", ticklen=5, tickcolor="#e4e4e4", mirror="ticks", showline=False, ticklabelshift=9,
                       tickfont=dict(size=9.7, color="#444", family=FONT)),
                  dict(tickmode="array", tickvals=list(range(6)), ticktext=j_rows, ticks="outside", ticklen=3, tickcolor="#e8e8e8",
                       mirror="ticks", showline=False, tickfont=dict(size=20.5, color="#4d4d4d", family=FONT)))
traces.append(go.Heatmap(x=list(range(50)), y=list(range(6)), z=j_z, text=j_text, texttemplate="%{text}", zmin=-.47, zmax=.39,
                         colorscale=HEAT, showscale=False, xgap=2, ygap=2, xaxis=xj, yaxis=yj, hoverinfo="skip",
                         textfont=dict(size=19, color="black", family=FONT)))
text(1836, 989, "* p < 0.05", size=10.5)
text(1832, 1012.7, "** p < 0.01", size=10.5)
text(1832.4, 1036, "Correlation", size=10.5)
legend_bar((1832.4, 1046.7, 1849, 1130.7), -.472, .39, [-.4, -.2, 0, .2], ["\u22120.4", "\u22120.2", "0.0", "0.2"], HEAT, 8.6, reverse=False, nb=16)

# ---------- panel letters ----------
for s, px, base in (("a", 11, 40), ("b", 409, 40), ("c", 866, 40), ("d", 1392, 40), ("e", 11, 440), ("f", 409, 440),
                    ("g", 866, 440), ("h", 1392, 440), ("i", 13, 849), ("j", 596, 898)):
    text(px, base - 15, s, size=43, color="black", bold=True)

fig = go.Figure(data=traces)
fig.update_layout(template="none", width=W, height=H, margin=dict(l=0, r=0, t=0, b=0), paper_bgcolor="white", plot_bgcolor="rgba(0,0,0,0)",
                  showlegend=False, annotations=annotations, shapes=shapes, font=dict(family=FONT), **layout_axes)
fig.write_html("out.html", config=dict(displayModeBar=False), post_script="document.body.style.margin='0';")
